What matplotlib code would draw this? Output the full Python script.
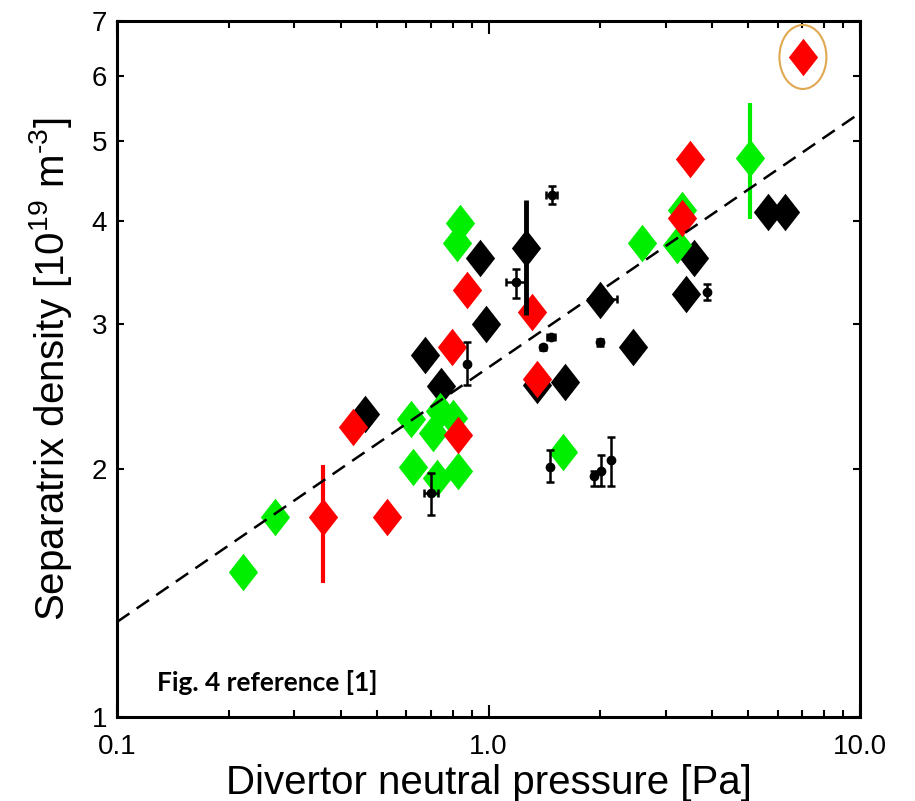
import numpy as np
import matplotlib
matplotlib.use("Agg")
import matplotlib.pyplot as plt
from matplotlib.patches import Ellipse
from matplotlib.transforms import ScaledTranslation

# green diamonds
green_p = [0.218, 0.266, 0.619, 0.709, 0.802, 0.740, 0.626, 0.727, 0.828,
           0.838, 0.823, 1.587, 2.589, 3.318, 3.217]
green_n = [1.50, 1.75, 2.30, 2.21, 2.31, 2.35, 2.01, 1.95, 1.99,
           3.98, 3.76, 2.10, 3.76, 4.13, 3.74]
# green diamond with error bar
green_err_p = [5.06]
green_err_n = [4.77]
green_err_lo = [4.02]
green_err_hi = [5.57]

# red diamonds
red_p = [0.533, 0.432, 0.828, 0.798, 0.875, 1.310, 1.351, 3.486, 3.318, 7.02]
red_n = [1.75, 2.25, 2.20, 2.81, 3.30, 3.10, 2.57, 4.76, 4.04, 6.33]
red_err_p = [0.358]
red_err_n = [1.75]
red_err_lo = [1.454]
red_err_hi = [2.02]

# black diamonds
black_p = [0.465, 0.675, 0.745, 0.949, 0.985, 1.351, 1.607, 1.996, 2.449,
           3.574, 3.401, 5.65, 6.28]
black_n = [2.33, 2.75, 2.52, 3.61, 3.00, 2.53, 2.55, 3.21, 2.81,
           3.61, 3.26, 4.10, 4.10]
black_err_p = [1.262]
black_err_n = [3.71]
black_err_lo = [3.08]
black_err_hi = [4.24]

# small black points with error bars
dot_p = [0.700, 0.875, 1.186, 1.482, 1.402, 1.473, 1.996, 3.875,
         1.464, 1.923, 2.008, 2.137, 2.03]
dot_n = [1.87, 2.68, 3.37, 4.30, 2.81, 2.89, 2.85, 3.28,
         2.01, 1.96, 1.99, 2.05, 3.22]
dot_lo = [1.76, 2.53, 3.23, 4.20, 2.79, 2.88, 2.82, 3.21,
          1.93, 1.91, 1.91, 1.91, 3.22]
dot_hi = [1.98, 2.85, 3.50, 4.41, 2.83, 2.90, 2.88, 3.36,
          2.11, 1.99, 2.08, 2.19, 3.22]
dot_plo = [0.670, 0.875, 1.115, 1.43, 1.402, 1.44, 1.996, 3.875,
           1.464, 1.923, 2.008, 2.137, 2.03]
dot_phi = [0.730, 0.875, 1.254, 1.53, 1.402, 1.51, 1.996, 3.875,
           1.464, 1.923, 2.008, 2.137, 2.22]

# power-law fit  n = fit_a * p**fit_b
fit_a = 2.657
fit_b = 0.309

plt.rcParams['font.family'] = ['Liberation Sans', 'DejaVu Sans']
plt.rcParams['mathtext.fontset'] = 'custom'
plt.rcParams['mathtext.rm'] = 'Liberation Sans'
plt.rcParams['mathtext.it'] = 'Liberation Sans'

fig = plt.figure(figsize=(9.15, 8.01), dpi=100)
ax = fig.add_axes([0.1279, 0.1049, 0.812, 0.8689])
ax.set_xscale('log')
ax.set_yscale('log')

diamond = [(0, 1), (0.78, 0), (0, -1), (-0.78, 0), (0, 1)]
ms = 27

ax.plot(black_p, black_n, ls='none', marker=diamond, ms=ms, color='black', mec='none', zorder=3)
ax.plot(green_p, green_n, ls='none', marker=diamond, ms=ms, color='#00ee00', mec='none', zorder=4)
ax.errorbar(green_err_p, green_err_n,
            yerr=[np.subtract(green_err_n, green_err_lo), np.subtract(green_err_hi, green_err_n)],
            fmt='none', ecolor='#00ee00', elinewidth=3, zorder=4)
ax.plot(green_err_p, green_err_n, ls='none', marker=diamond, ms=ms, color='#00ee00', mec='none', zorder=4)
ax.plot(red_p, red_n, ls='none', marker=diamond, ms=ms, color='#ff0000', mec='none', zorder=5)
ax.errorbar(red_err_p, red_err_n,
            yerr=[np.subtract(red_err_n, red_err_lo), np.subtract(red_err_hi, red_err_n)],
            fmt='none', ecolor='#ff0000', elinewidth=3, zorder=5)
ax.plot(red_err_p, red_err_n, ls='none', marker=diamond, ms=ms, color='#ff0000', mec='none', zorder=5)
ax.errorbar(black_err_p, black_err_n,
            yerr=[np.subtract(black_err_n, black_err_lo), np.subtract(black_err_hi, black_err_n)],
            fmt='none', ecolor='black', elinewidth=3.5, zorder=6)
ax.plot(black_err_p, black_err_n, ls='none', marker=diamond, ms=ms, color='black', mec='none', zorder=6)

ax.errorbar(dot_p, dot_n,
            yerr=[np.subtract(dot_n, dot_lo), np.subtract(dot_hi, dot_n)],
            xerr=[np.subtract(dot_p, dot_plo), np.subtract(dot_phi, dot_p)],
            fmt='o', ms=6, color='black', ecolor='black', elinewidth=1.8,
            capsize=3, capthick=1.8, zorder=7)

xf = np.array([0.1, 10.0])
fit_line, = ax.plot(xf, fit_a * xf ** fit_b, color='black', lw=1.8, zorder=6)
fit_line.set_dashes([6, 3.5])

# circle around the highest point
ell = Ellipse((0, 0), width=0.47, height=0.64, fill=False, ec='#e0a850', lw=1.5,
              transform=fig.dpi_scale_trans + ScaledTranslation(red_p[-1], red_n[-1], ax.transData),
              zorder=8)
ax.add_patch(ell)

ax.set_xlim(0.1, 10)
ax.set_ylim(1, 7)
ax.set_xticks([0.1, 1, 10], ['0.1', '1.0', '10.0'])
ax.xaxis.set_minor_locator(matplotlib.ticker.LogLocator(base=10, subs=np.arange(2, 10)))
ax.xaxis.set_minor_formatter(matplotlib.ticker.NullFormatter())
ax.set_yticks([1, 2, 3, 4, 5, 6, 7], ['1', '2', '3', '4', '5', '6', '7'])
ax.yaxis.set_minor_locator(matplotlib.ticker.NullLocator())

ax.tick_params(axis='both', which='both', direction='in', top=True, right=True,
               width=1.5, labelsize=20)
ax.tick_params(axis='x', which='major', length=9, pad=12)
ax.tick_params(axis='x', which='minor', length=5)
ax.tick_params(axis='y', which='major', length=5, pad=7)
for s in ax.spines.values():
    s.set_linewidth(2.2)

ax.set_xlabel('Divertor neutral pressure [Pa]', fontsize=29, labelpad=3)
ax.set_ylabel('Separatrix density [10$^{19}$ m$^{\\text{-}3}$]', fontsize=29, labelpad=13)

ax.text(0.054, 0.05, 'Fig. 4 reference [1]', transform=ax.transAxes,
        fontsize=19, fontweight='bold', family=['Lato', 'DejaVu Sans'], va='center')

fig.savefig('out.png', dpi=100)
